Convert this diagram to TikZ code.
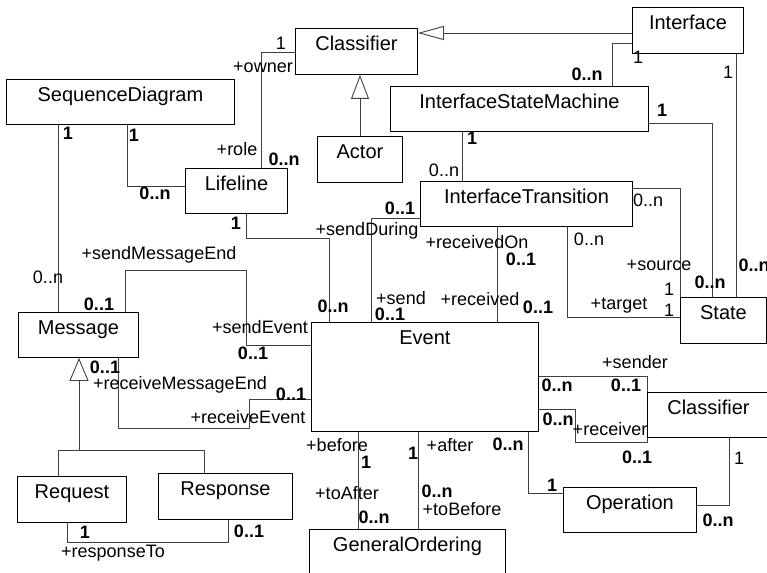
\documentclass[tikz,border=0pt]{standalone}
\usepackage{fontspec}
\setmainfont{Liberation Sans}
\usetikzlibrary{arrows.meta}
\newcommand\clsfont{\fontsize{20}{24}\selectfont}
\newcommand\lblfont{\fontsize{18}{21}\selectfont}
\begin{document}
\begin{tikzpicture}[x=1pt,y=-1pt,
  cls/.style={draw=black, line width=0.9pt, inner sep=0pt, anchor=north west, text height=22pt, font=\clsfont},
  assoc/.style={draw=black!75, line width=0.9pt},
  lbl/.style={font=\lblfont, inner sep=0pt},
  lblb/.style={font=\lblfont\bfseries, inner sep=0pt}]
\useasboundingbox (0,0) rectangle (767,572);
\fill[white] (0,0) rectangle (767,572);
\clip (0,0) rectangle (767,572);

% classes
\node[cls, minimum width=122pt, text depth=24pt] (clsTop) at (295,28) {Classifier};
\node[cls, minimum width=111pt, text depth=24pt] (iface) at (632,7) {Interface};
\node[cls, minimum width=228pt, text depth=23pt] (seqd) at (6,79) {SequenceDiagram};
\node[cls, minimum width=85pt, text depth=24pt] (actor) at (317,136) {Actor};
\node[cls, minimum width=102pt, text depth=23pt] (lifeline) at (185,168) {Lifeline};
\node[cls, minimum width=258pt, text depth=23pt] (ism) at (390,86) {InterfaceStateMachine};
\node[cls, minimum width=212pt, text depth=23pt] (itrans) at (420,181) {InterfaceTransition};
\node[cls, minimum width=120pt, text depth=23pt] (message) at (18,312) {Message};
\node[cls, minimum width=227pt, text depth=87pt] (event) at (311,322) {Event};
\node[cls, minimum width=86pt, text depth=24pt] (state) at (680,297) {State};
\node[cls, minimum width=128pt, text depth=23pt] (clsR) at (647,392) {Classifier\hspace*{6pt}};
\node[cls, minimum width=133pt, text depth=23pt] (oper) at (563,487) {Operation};
\node[cls, minimum width=196pt, text depth=29pt] (genord) at (309,529) {GeneralOrdering};
\node[cls, minimum width=109pt, text depth=24pt] (request) at (17,476) {Request};
\node[cls, minimum width=134pt, text depth=24pt] (response) at (158,473) {Response};

% generalizations
\draw[assoc, -{Triangle[open, length=24pt, width=18pt]}] ([xshift=43pt]actor.north west) -- ([xshift=65pt]clsTop.south west);
\draw[assoc, -{Triangle[open, length=26pt, width=14pt]}] ([yshift=-26pt]iface.north west) -- ([yshift=-5pt]clsTop.north east);
\coordinate (genj) at (79,450);
\draw[assoc] ([xshift=41pt]request.north west) -- (58,450) -- (204,450) -- ([xshift=46pt]response.north west);
\draw[assoc, -{Triangle[open, length=23pt, width=19pt]}] (genj) -- ([xshift=61pt]message.south west);

% associations
\draw[assoc] ([yshift=-24pt]clsTop.north west) -| ([xshift=76pt]lifeline.north west);
\draw[assoc] ([xshift=121pt]seqd.south west) |- ([yshift=-18pt]lifeline.north west);
\draw[assoc] ([xshift=52pt]seqd.south west) -- ([xshift=40pt]message.north west);
\draw[assoc] ([xshift=107pt]message.north west) -- (125,270) -- (246,270) -- (246,345) -- ([yshift=-23pt]event.north west);
\draw[assoc] ([xshift=61pt]lifeline.south west) -- (246,238) -- (329,238) -- ([xshift=18pt]event.north west);
\draw[assoc] ([yshift=-37pt]itrans.north west) -| ([xshift=60pt]event.north west);
\draw[assoc] ([xshift=77pt]itrans.south west) -- ([xshift=186pt]event.north west);
\draw[assoc] ([xshift=72pt]ism.south west) -- ([xshift=42pt]itrans.north west);
\draw[assoc] ([yshift=-36pt]iface.north west) -| ([xshift=222pt]ism.north west);
\draw[assoc] ([xshift=104pt]iface.south west) -- ([xshift=56pt]state.north west);
\draw[assoc] ([yshift=-37pt]ism.north east) -| ([xshift=32pt]state.north west);
\draw[assoc] ([yshift=-7pt]itrans.north east) -| (state.north west);
\draw[assoc] ([xshift=147pt]itrans.south west) |- ([yshift=-20pt]state.north west);
\draw[assoc] ([xshift=100pt]message.south west) -- (118,428) -- (249,428) -- (249,399) -- ([yshift=-77pt]event.north west);
\draw[assoc] ([xshift=50pt]request.south west) -- (67,542) -- (228,542) -- ([xshift=70pt]response.south west);
\draw[assoc] ([xshift=47pt]event.south west) -- ([xshift=49pt]genord.north west);
\draw[assoc] ([xshift=107pt]event.south west) -- ([xshift=109pt]genord.north west);
\draw[assoc] ([xshift=217pt]event.south west) |- ([yshift=-6pt]oper.north west);
\draw[assoc] ([yshift=-18pt]oper.north east) -| ([xshift=82pt]clsR.south west);
\draw[assoc] ([yshift=-54pt]event.north east) -| (clsR.north west);
\draw[assoc] ([yshift=-87pt]event.north east) -- (575,409) -- (575,442) -- (647,442) -- (clsR.south west);

% labels
\node[lbl] (l1) at (281,43) {1};
\node[lbl] (l2) at (263,67) {+owner};
\node[lbl] (l3) at (237,149) {+role};
\node[lblb] (l4) at (284,159) {0..n};
\node[lblb] (l5) at (134,135) {1};
\node[lblb] (l6) at (155,193) {0..n};
\node[lblb] (l7) at (68,133) {1};
\node[lbl] (l8) at (48,277) {0..n};
\node[lbl] (l9) at (159,255) {+sendMessageEnd};
\node[lblb] (l10) at (99,304) {0..1};
\node[lbl] (l11) at (260,327) {+sendEvent};
\node[lblb] (l12) at (253,353) {0..1};
\node[lblb] (l13) at (236,223) {1};
\node[lblb] (l14) at (333,306) {0..n};
\node[lblb] (l15) at (400,208) {0..1};
\node[lbl] (l16) at (367,231) {+sendDuring};
\node[lbl] (l17) at (401,298) {+send};
\node[lblb] (l18) at (390,314) {0..1};
\node[lbl] (l19) at (477,242) {+receivedOn};
\node[lblb] (l20) at (521,259) {0..1};
\node[lbl] (l21) at (480,299) {+received};
\node[lblb] (l22) at (538,307) {0..1};
\node[lblb] (l23) at (472,138) {1};
\node[lbl] (l24) at (444,170) {0..n};
\node[lbl] (l25) at (638,57) {1};
\node[lblb] (l26) at (587,74) {0..n};
\node[lbl] (l27) at (728,72) {1};
\node[lblb] (l28) at (754,265) {0..n};
\node[lblb] (l29) at (662,110) {1};
\node[lblb] (l30) at (710,282) {0..n};
\node[lbl] (l31) at (648,200) {0..n};
\node[lbl] (l32) at (659,265) {+source};
\node[lbl] (l33) at (669,289) {1};
\node[lbl] (l34) at (589,239) {0..n};
\node[lbl] (l35) at (619,306) {+target};
\node[lbl] (l36) at (669,310) {1};
\node[lblb] (l37) at (105,367) {0..1};
\node[lbl] (l38) at (180,385) {+receiveMessageEnd};
\node[lblb] (l39) at (291,394) {0..1};
\node[lbl] (l40) at (248,417) {+receiveEvent};
\node[lblb] (l41) at (85,532) {1};
\node[lblb] (l42) at (249,531) {0..1};
\node[lbl] (l43) at (113,553) {+responseTo};
\node[lbl] (l44) at (337,445) {+before};
\node[lblb] (l45) at (366,462) {1};
\node[lbl] (l46) at (347,493) {+toAfter};
\node[lblb] (l47) at (374,517) {0..n};
\node[lblb] (l48) at (413,453) {1};
\node[lbl] (l49) at (450,445) {+after};
\node[lblb] (l50) at (437,491) {0..n};
\node[lbl] (l51) at (462,509) {+toBefore};
\node[lblb] (l52) at (508,444) {0..n};
\node[lblb] (l53) at (552,485) {1};
\node[lbl] (l54) at (739,458) {1};
\node[lblb] (l55) at (718,520) {0..n};
\node[lbl] (l56) at (635,362) {+sender};
\node[lblb] (l57) at (557,385) {0..n};
\node[lblb] (l58) at (626,385) {0..1};
\node[lblb] (l59) at (558,419) {0..n};
\node[lbl] (l60) at (610,429) {+receiver};
\node[lblb] (l61) at (637,457) {0..1};
\end{tikzpicture}
\end{document}
